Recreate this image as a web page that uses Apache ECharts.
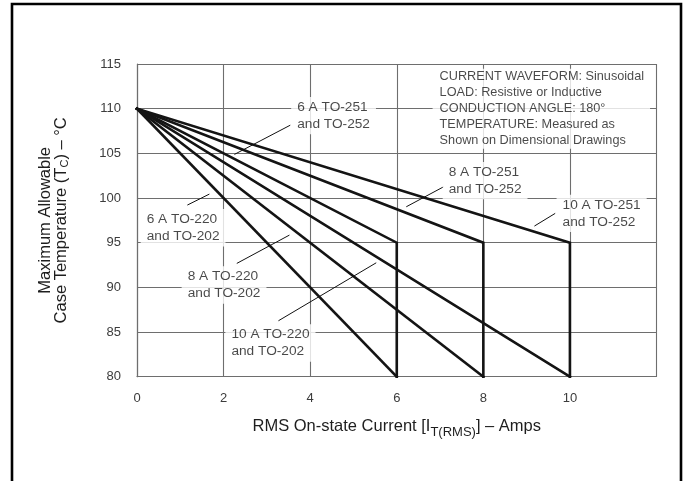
<!DOCTYPE html>
<html>
<head>
<meta charset="utf-8">
<script src="https://cdn.jsdelivr.net/npm/echarts@6/dist/echarts.min.js"></script>
<style>
  html, body { margin: 0; padding: 0; background: #ffffff; }
  #chart { width: 687px; height: 481px; }
</style>
</head>
<body>
<div id="chart"></div>
<script>
// Maximum allowable case temperature vs. RMS on-state current

// Axis ticks
const currentTicks = [0, 2, 4, 6, 8, 10, 12];
const tempTicks = [80, 85, 90, 95, 100, 105, 110, 115];

// TO-251 / TO-252 curves: derate to 95 °C at rated current, then drop to 80 °C
const to251Current6A = [0, 6, 6];
const to251Current8A = [0, 8, 8];
const to251Current10A = [0, 10, 10];
const to251Temp = [110, 95, 80];

// TO-220 / TO-202 curves: straight derating down to 80 °C at rated current
const to220Current6A = [0, 6];
const to220Current8A = [0, 8];
const to220Current10A = [0, 10];
const to220Temp = [110, 80];

// Callout texts
const calloutTexts = [
  '6 A TO-251\nand TO-252',
  '8 A TO-251\nand TO-252',
  '10 A TO-251\nand TO-252',
  '6 A TO-220\nand TO-202',
  '8 A TO-220\nand TO-202',
  '10 A TO-220\nand TO-202'
];
const conditionsText = [
  'CURRENT WAVEFORM: Sinusoidal',
  'LOAD: Resistive or Inductive',
  'CONDUCTION ANGLE: 180\u00B0',
  'TEMPERATURE: Measured as',
  'Shown on Dimensional Drawings'
].join('\n');

// Callout placement in axis units (left edge, vertical middle of the text)
const calloutAnchors = [
  [3.70, 109.22],
  [7.20, 101.95],
  [9.83, 98.28],
  [0.224, 96.67],
  [1.17, 90.26],
  [2.18, 83.77]
];
const conditionsAnchor = [6.99, 109.98];

// Leader lines from each callout toward its curve, in axis units
const leaderLines = [
  [[2.25, 104.88], [3.54, 108.15]],
  [[6.22, 99.02], [7.08, 101.25]],
  [[9.18, 96.86], [9.66, 98.28]],
  [[1.163, 99.21], [1.672, 100.44]],
  [[2.305, 92.68], [3.521, 95.85]],
  [[3.267, 86.26], [5.526, 92.75]]
];

const zip = (xs, ys) => xs.map((x, i) => [x, ys[i]]);

const FONT = '"Liberation Sans", Arial, Helvetica, sans-serif';
const GRID_COLOR = '#6e6e6e';
const CURVE_COLOR = '#141414';

const curves = [
  zip(to251Current6A, to251Temp),
  zip(to251Current8A, to251Temp),
  zip(to251Current10A, to251Temp),
  zip(to220Current6A, to220Temp),
  zip(to220Current8A, to220Temp),
  zip(to220Current10A, to220Temp)
];

const series = [];

curves.forEach(function (pts) {
  series.push({
    type: 'line',
    data: pts,
    symbol: 'none',
    silent: true,
    animation: false,
    z: 3,
    lineStyle: { color: CURVE_COLOR, width: 2.6, cap: 'square', join: 'miter' }
  });
});

leaderLines.forEach(function (seg) {
  series.push({
    type: 'line',
    data: seg,
    symbol: 'none',
    silent: true,
    animation: false,
    z: 4,
    lineStyle: { color: '#111', width: 1 }
  });
});

// Callout texts on white boxes that break the grid lines behind them
series.push({
  type: 'scatter',
  symbolSize: 0,
  silent: true,
  animation: false,
  z: 5,
  data: calloutAnchors.map(function (p, i) {
    return { value: p, label: { formatter: calloutTexts[i] } };
  }),
  label: {
    show: true,
    position: 'inside',
    align: 'left',
    verticalAlign: 'middle',
    offset: [-6, 0],
    padding: [2, 6, 2, 6],
    backgroundColor: '#ffffff',
    color: '#1a1a1a',
    fontFamily: FONT,
    fontSize: 13.7,
    lineHeight: 16.7
  }
});

series.push({
  type: 'scatter',
  symbolSize: 0,
  silent: true,
  animation: false,
  z: 5,
  data: [{ value: conditionsAnchor, label: { formatter: conditionsText } }],
  label: {
    show: true,
    position: 'inside',
    align: 'left',
    verticalAlign: 'middle',
    offset: [-7, 0],
    padding: [0, 6, 0, 7],
    backgroundColor: '#ffffff',
    color: '#1a1a1a',
    fontFamily: FONT,
    fontSize: 12.7,
    lineHeight: 16
  }
});

const chart = echarts.init(document.getElementById('chart'), null, { renderer: 'canvas' });

chart.setOption({
  backgroundColor: '#ffffff',
  animation: false,
  grid: { left: 137, right: 30.5, top: 64, bottom: 104.3, containLabel: false },
  xAxis: {
    type: 'value',
    min: currentTicks[0],
    max: currentTicks[currentTicks.length - 1],
    interval: currentTicks[1] - currentTicks[0],
    axisLine: { show: true, lineStyle: { color: GRID_COLOR, width: 1.2 } },
    axisTick: { show: false },
    splitLine: { show: true, lineStyle: { color: GRID_COLOR, width: 1.1 } },
    axisLabel: {
      color: '#3c3c3c',
      fontFamily: FONT,
      fontSize: 13,
      margin: 15,
      showMaxLabel: false,
      formatter: function (v) { return v === currentTicks[currentTicks.length - 1] ? '' : String(v); }
    },
    name: 'RMS On-state Current [I{sub|T(RMS)}] \u2013 Amps',
    nameLocation: 'middle',
    nameGap: 39,
    nameTextStyle: {
      color: '#1e1e1e',
      fontFamily: FONT,
      fontSize: 16.5,
      lineHeight: 22,
      rich: {
        sub: { fontFamily: FONT, fontSize: 13, lineHeight: 13, padding: [12, 0, 0, 0], color: '#1e1e1e' }
      }
    }
  },
  yAxis: {
    type: 'value',
    min: tempTicks[0],
    max: tempTicks[tempTicks.length - 1],
    interval: tempTicks[1] - tempTicks[0],
    axisLine: { show: true, lineStyle: { color: GRID_COLOR, width: 1.2 } },
    axisTick: { show: false },
    splitLine: { show: true, lineStyle: { color: GRID_COLOR, width: 1.1 } },
    axisLabel: {
      color: '#3c3c3c',
      fontFamily: FONT,
      fontSize: 13,
      margin: 16
    },
    name: 'Maximum Allowable\nCase Temperature (T{sub|C}) \u2013 \u00B0C',
    nameLocation: 'middle',
    nameGap: 68,
    nameTextStyle: {
      color: '#1e1e1e',
      fontFamily: FONT,
      fontSize: 16.5,
      lineHeight: 16,
      rich: {
        sub: { fontFamily: FONT, fontSize: 11, lineHeight: 11, padding: [8, 0, 0, 0], color: '#1e1e1e' }
      }
    }
  },
  graphic: [{
    type: 'rect',
    silent: true,
    z: 100,
    shape: { x: 12, y: 4, width: 669, height: 500 },
    style: { fill: 'none', stroke: '#000000', lineWidth: 2.6 }
  }],
  series: series
});
</script>
</body>
</html>
